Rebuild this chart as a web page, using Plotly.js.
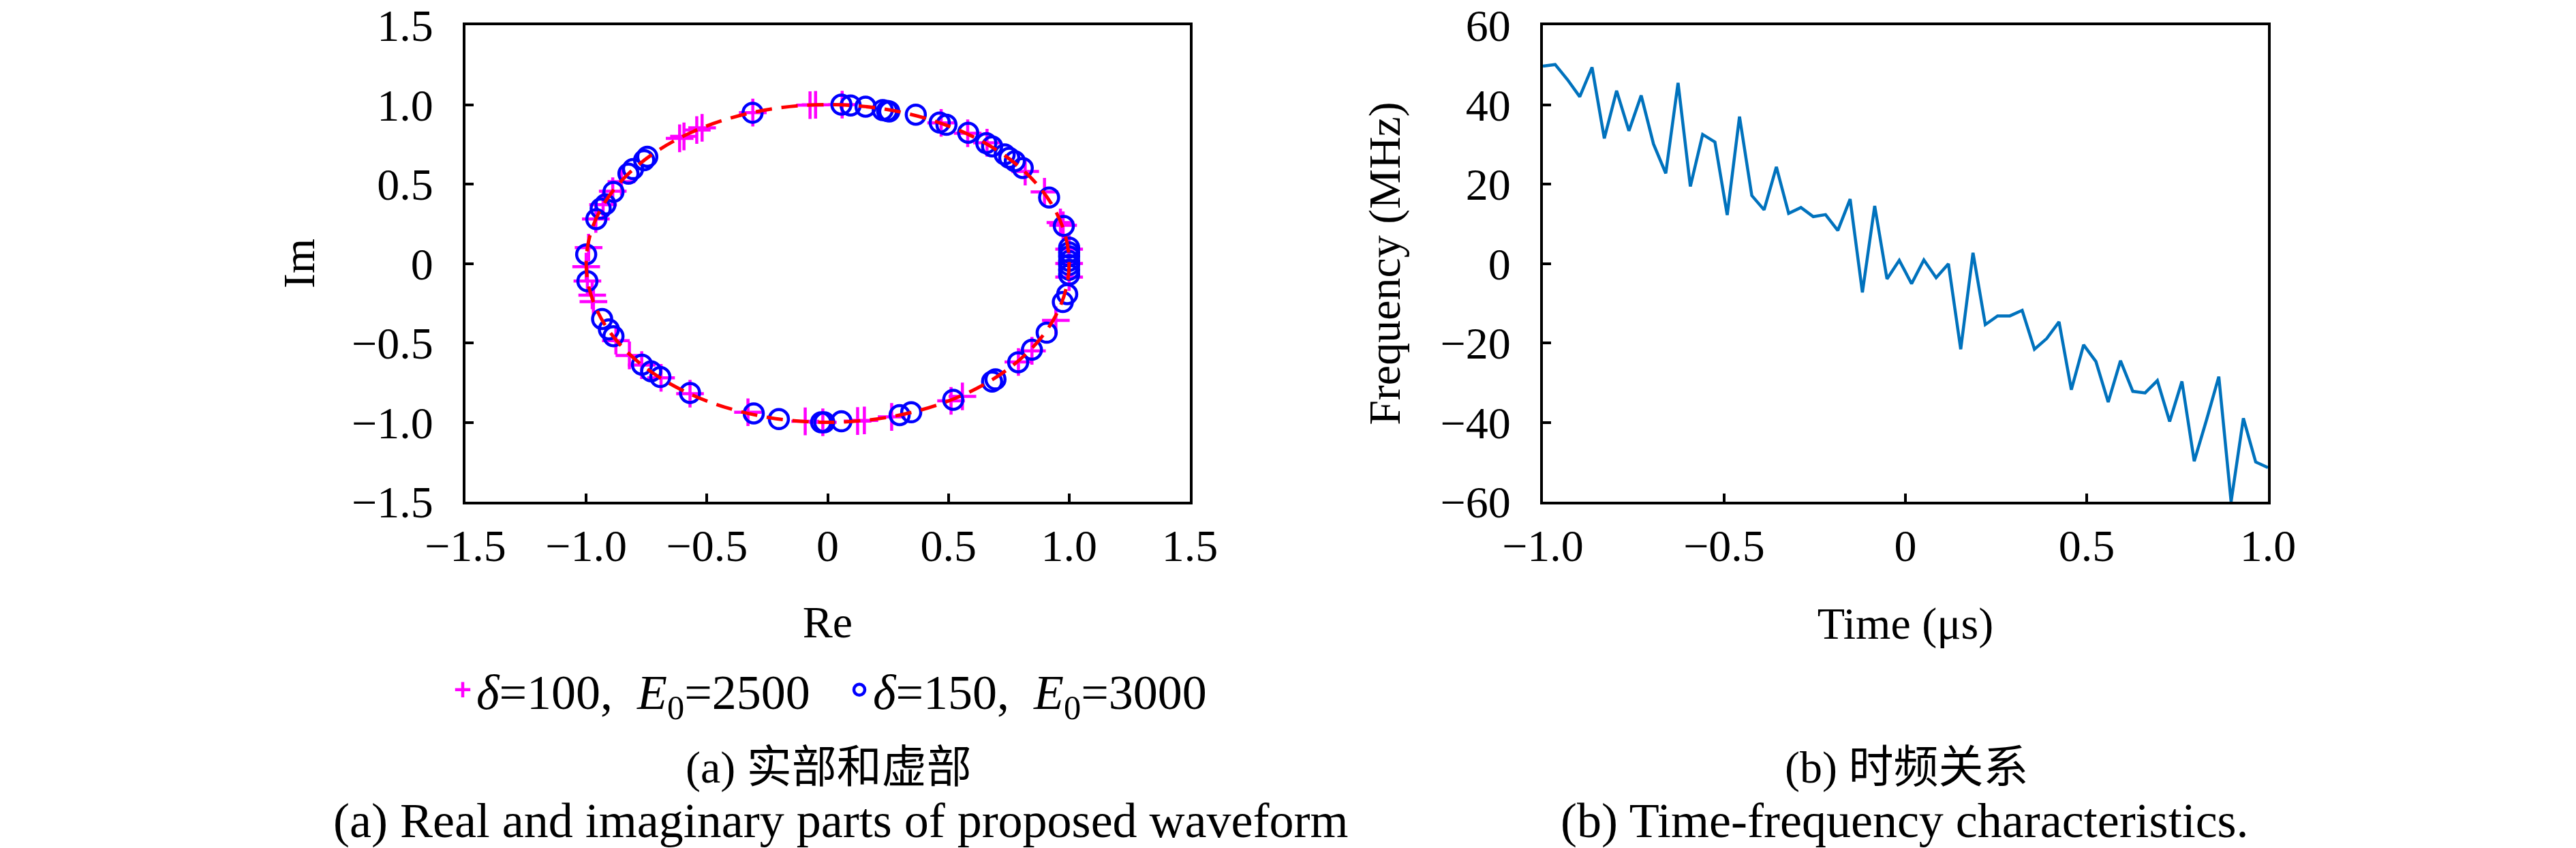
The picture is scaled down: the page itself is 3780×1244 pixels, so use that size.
<!DOCTYPE html>
<html>
<head>
<meta charset="utf-8">
<script src="https://cdn.plot.ly/plotly-3.0.1.min.js"></script>
<style>
  html, body { margin: 0; padding: 0; background: #fff; }
  #chart { width: 3780px; height: 1244px; }
</style>
</head>
<body>
<div id="chart"></div>
<script>
    // (a) constellation points
    let pinkRe = [-0.073, -0.05, -0.31, -0.613, -0.595, -0.542, -0.52, -0.854, -0.89, -0.93, -0.96, -0.99,
        -1.0, -0.995, -0.975, -0.97, -0.877, -0.821, -0.77, -0.69, -0.57, -0.33, -0.093, -0.02,
        0.124, 0.152, 0.265, 0.511, 0.558, 0.79, 0.846, 0.945, 1.0, 1.0,
        0.06, 0.47, 0.58, 0.66, 0.818, 0.898, 0.964, 0.975, 1.0];
    let pinkIm = [0.997, 0.999, 0.95, 0.788, 0.80, 0.84, 0.854, 0.515, 0.455, 0.37, 0.28, 0.10,
        -0.02, -0.11, -0.20, -0.24, -0.486, -0.579, -0.64, -0.72, -0.82, -0.937, -0.994, -1.0,
        -0.992, -0.988, -0.966, -0.865, -0.837, -0.62, -0.55, -0.358, -0.086, 0.0,
        1.0, 0.885, 0.82, 0.76, 0.579, 0.451, 0.258, 0.24, 0.09];

    let blueRe = [-0.311, -0.747, -0.76, -0.806, -0.825, -0.887, -0.92, -0.94, -0.958, -1.0,
        -0.995, -0.934, -0.906, -0.887, -0.769, -0.731, -0.693, -0.57, -0.306, -0.202,
        -0.027, -0.014, 0.057, 0.298, 0.346, 0.52, 0.681, 0.695, 0.789, 0.846,
        0.907, 0.974, 0.992, 1.0, 1.0, 1.0, 1.0, 1.0, 1.0, 1.0,
        0.057, 0.095, 0.157, 0.228, 0.246, 0.255, 0.365, 0.464, 0.492, 0.582,
        0.657, 0.681, 0.733, 0.752, 0.775, 0.808, 0.917, 0.978];
    let blueIm = [0.949, 0.672, 0.65, 0.594, 0.565, 0.451, 0.372, 0.345, 0.279, 0.057,
        -0.112, -0.35, -0.415, -0.458, -0.637, -0.679, -0.715, -0.815, -0.944, -0.98,
        -1.0, -1.0, -0.994, -0.955, -0.937, -0.858, -0.744, -0.73, -0.622, -0.543,
        -0.436, -0.243, -0.193, -0.071, -0.04, -0.01, 0.016, 0.045, 0.07, 0.10,
        1.0, 0.995, 0.987, 0.966, 0.96, 0.957, 0.937, 0.887, 0.873, 0.823,
        0.758, 0.737, 0.687, 0.665, 0.644, 0.601, 0.415, 0.236];

    let circleRadius = 1;

    // (b) instantaneous frequency, 60 samples over -1..1 us
    let timeStart = -1;
    let timeStep = 2 / 59;
    let freq = [49.7, 50.1, 46.3, 42.0, 49.4, 31.5, 43.5, 33.4, 42.3, 30.1,
        22.7, 45.5, 19.4, 32.5, 30.6, 12.2, 37.0, 17.1, 13.5, 24.3,
        12.6, 14.1, 11.8, 12.3, 8.3, 16.2, -7.3, 14.5, -3.9, 0.8,
        -5.1, 0.9, -3.6, -0.1, -21.6, 2.7, -15.4, -13.2, -13.2, -11.8,
        -21.6, -18.9, -14.7, -31.8, -20.5, -24.7, -34.9, -24.5, -32.2, -32.6,
        -29.5, -39.8, -29.7, -49.8, -39.4, -28.5, -60.0, -39.0, -50.0, -51.4];

    let reTicks = [-1.5, -1, -0.5, 0, 0.5, 1, 1.5];
    let reTickText = ['\u22121.5', '\u22121.0', '\u22120.5', '0', '0.5', '1.0', '1.5'];
    let timeTicks = [-1, -0.5, 0, 0.5, 1];
    let timeTickText = ['\u22121.0', '\u22120.5', '0', '0.5', '1.0'];
    let freqTicks = [-60, -40, -20, 0, 20, 40, 60];
    let freqTickText = ['\u221260', '\u221240', '\u221220', '0', '20', '40', '60'];

    let serif = 'Liberation Serif, Noto Sans CJK SC, serif';
    let fs = 66;

    let axisBase = {
        showline: true, linecolor: 'black', linewidth: 4, mirror: true,
        ticks: 'inside', ticklen: 12, tickwidth: 4, tickcolor: 'black',
        showgrid: false, zeroline: false, fixedrange: true,
        tickfont: {family: serif, size: fs, color: 'black'},
        ticklabelstandoff: 30
    };

    let traces = [{
        type: 'scatter', mode: 'markers', x: pinkRe, y: pinkIm, xaxis: 'x', yaxis: 'y',
        name: '<i>\u03b4</i>=100,  <i>E</i><sub>0</sub>=2500',
        marker: {symbol: 'cross-thin-open', size: 29, color: '#ff00ff', line: {width: 4.5, color: '#ff00ff'}}
    }, {
        type: 'scatter', mode: 'markers', x: blueRe, y: blueIm, xaxis: 'x', yaxis: 'y',
        name: '<i>\u03b4</i>=150,  <i>E</i><sub>0</sub>=3000',
        marker: {symbol: 'circle-open', size: 28, color: '#0000ff', line: {width: 4.5, color: '#0000ff'}}
    }, {
        type: 'scatter', mode: 'lines', x0: timeStart, dx: timeStep, y: freq, xaxis: 'x2', yaxis: 'y2',
        showlegend: false,
        line: {color: '#0072bd', width: 4.5}
    }];

    let layout = {
        width: 3780, height: 1244,
        margin: {l: 0, r: 0, t: 0, b: 0},
        paper_bgcolor: 'white', plot_bgcolor: 'white',
        font: {family: serif, size: fs, color: 'black'},
        xaxis: Object.assign({}, axisBase, {
            domain: [683 / 3780, 1746 / 3780], range: [-1.5, 1.5], anchor: 'y',
            tickvals: reTicks, ticktext: reTickText, ticklabelstandoff: 4,
            title: {text: 'Re', font: {family: serif, size: fs}, standoff: 54}
        }),
        yaxis: Object.assign({}, axisBase, {
            domain: [1 - 736 / 1244, 1 - 37 / 1244], range: [-1.5, 1.5], anchor: 'x',
            tickvals: reTicks, ticktext: reTickText,
            title: {text: 'Im', font: {family: serif, size: fs}, standoff: 34}
        }),
        xaxis2: Object.assign({}, axisBase, {
            domain: [2264 / 3780, 3328 / 3780], range: [-1, 1], anchor: 'y2',
            tickvals: timeTicks, ticktext: timeTickText, ticklabelstandoff: 4,
            title: {text: 'Time (\u03bcs)', font: {family: serif, size: fs}, standoff: 56}
        }),
        yaxis2: Object.assign({}, axisBase, {
            domain: [1 - 736 / 1244, 1 - 37 / 1244], range: [-60, 60], anchor: 'x2',
            tickvals: freqTicks, ticktext: freqTickText,
            title: {text: 'Frequency (MHz)', font: {family: serif, size: fs}, standoff: 38}
        }),
        shapes: [{
            type: 'circle', xref: 'x', yref: 'y', layer: 'above',
            x0: -circleRadius, x1: circleRadius, y0: -circleRadius, y1: circleRadius,
            line: {color: '#ff0000', width: 5, dash: '24px,14px'}
        }],
        showlegend: true,
        legend: {
            orientation: 'h', x: 1241 / 3780, xanchor: 'center', y: 1 - 1012 / 1244, yanchor: 'middle',
            font: {family: serif, size: 72, color: 'black'}, bgcolor: 'rgba(0,0,0,0)',
            itemwidth: 30, entrywidth: 537, entrywidthmode: 'pixels'
        },
        annotations: [{
            xref: 'paper', yref: 'paper', x: 1216 / 3780, y: 1 - 1126 / 1244, xanchor: 'center', yanchor: 'middle',
            text: '(a) \u5b9e\u90e8\u548c\u865a\u90e8', showarrow: false, font: {family: serif, size: fs}
        }, {
            xref: 'paper', yref: 'paper', x: 1233 / 3780, y: 1 - 1204 / 1244, xanchor: 'center', yanchor: 'middle',
            text: '(a) Real and imaginary parts of proposed waveform', showarrow: false, font: {family: serif, size: 72}
        }, {
            xref: 'paper', yref: 'paper', x: 2797 / 3780, y: 1 - 1126 / 1244, xanchor: 'center', yanchor: 'middle',
            text: '(b) \u65f6\u9891\u5173\u7cfb', showarrow: false, font: {family: serif, size: fs}
        }, {
            xref: 'paper', yref: 'paper', x: 2795 / 3780, y: 1 - 1204 / 1244, xanchor: 'center', yanchor: 'middle',
            text: '(b) Time-frequency characteristics.', showarrow: false, font: {family: serif, size: 72}
        }]
    };

    Plotly.newPlot('chart', traces, layout, {staticPlot: true, displayModeBar: false});
</script>
</body>
</html>
